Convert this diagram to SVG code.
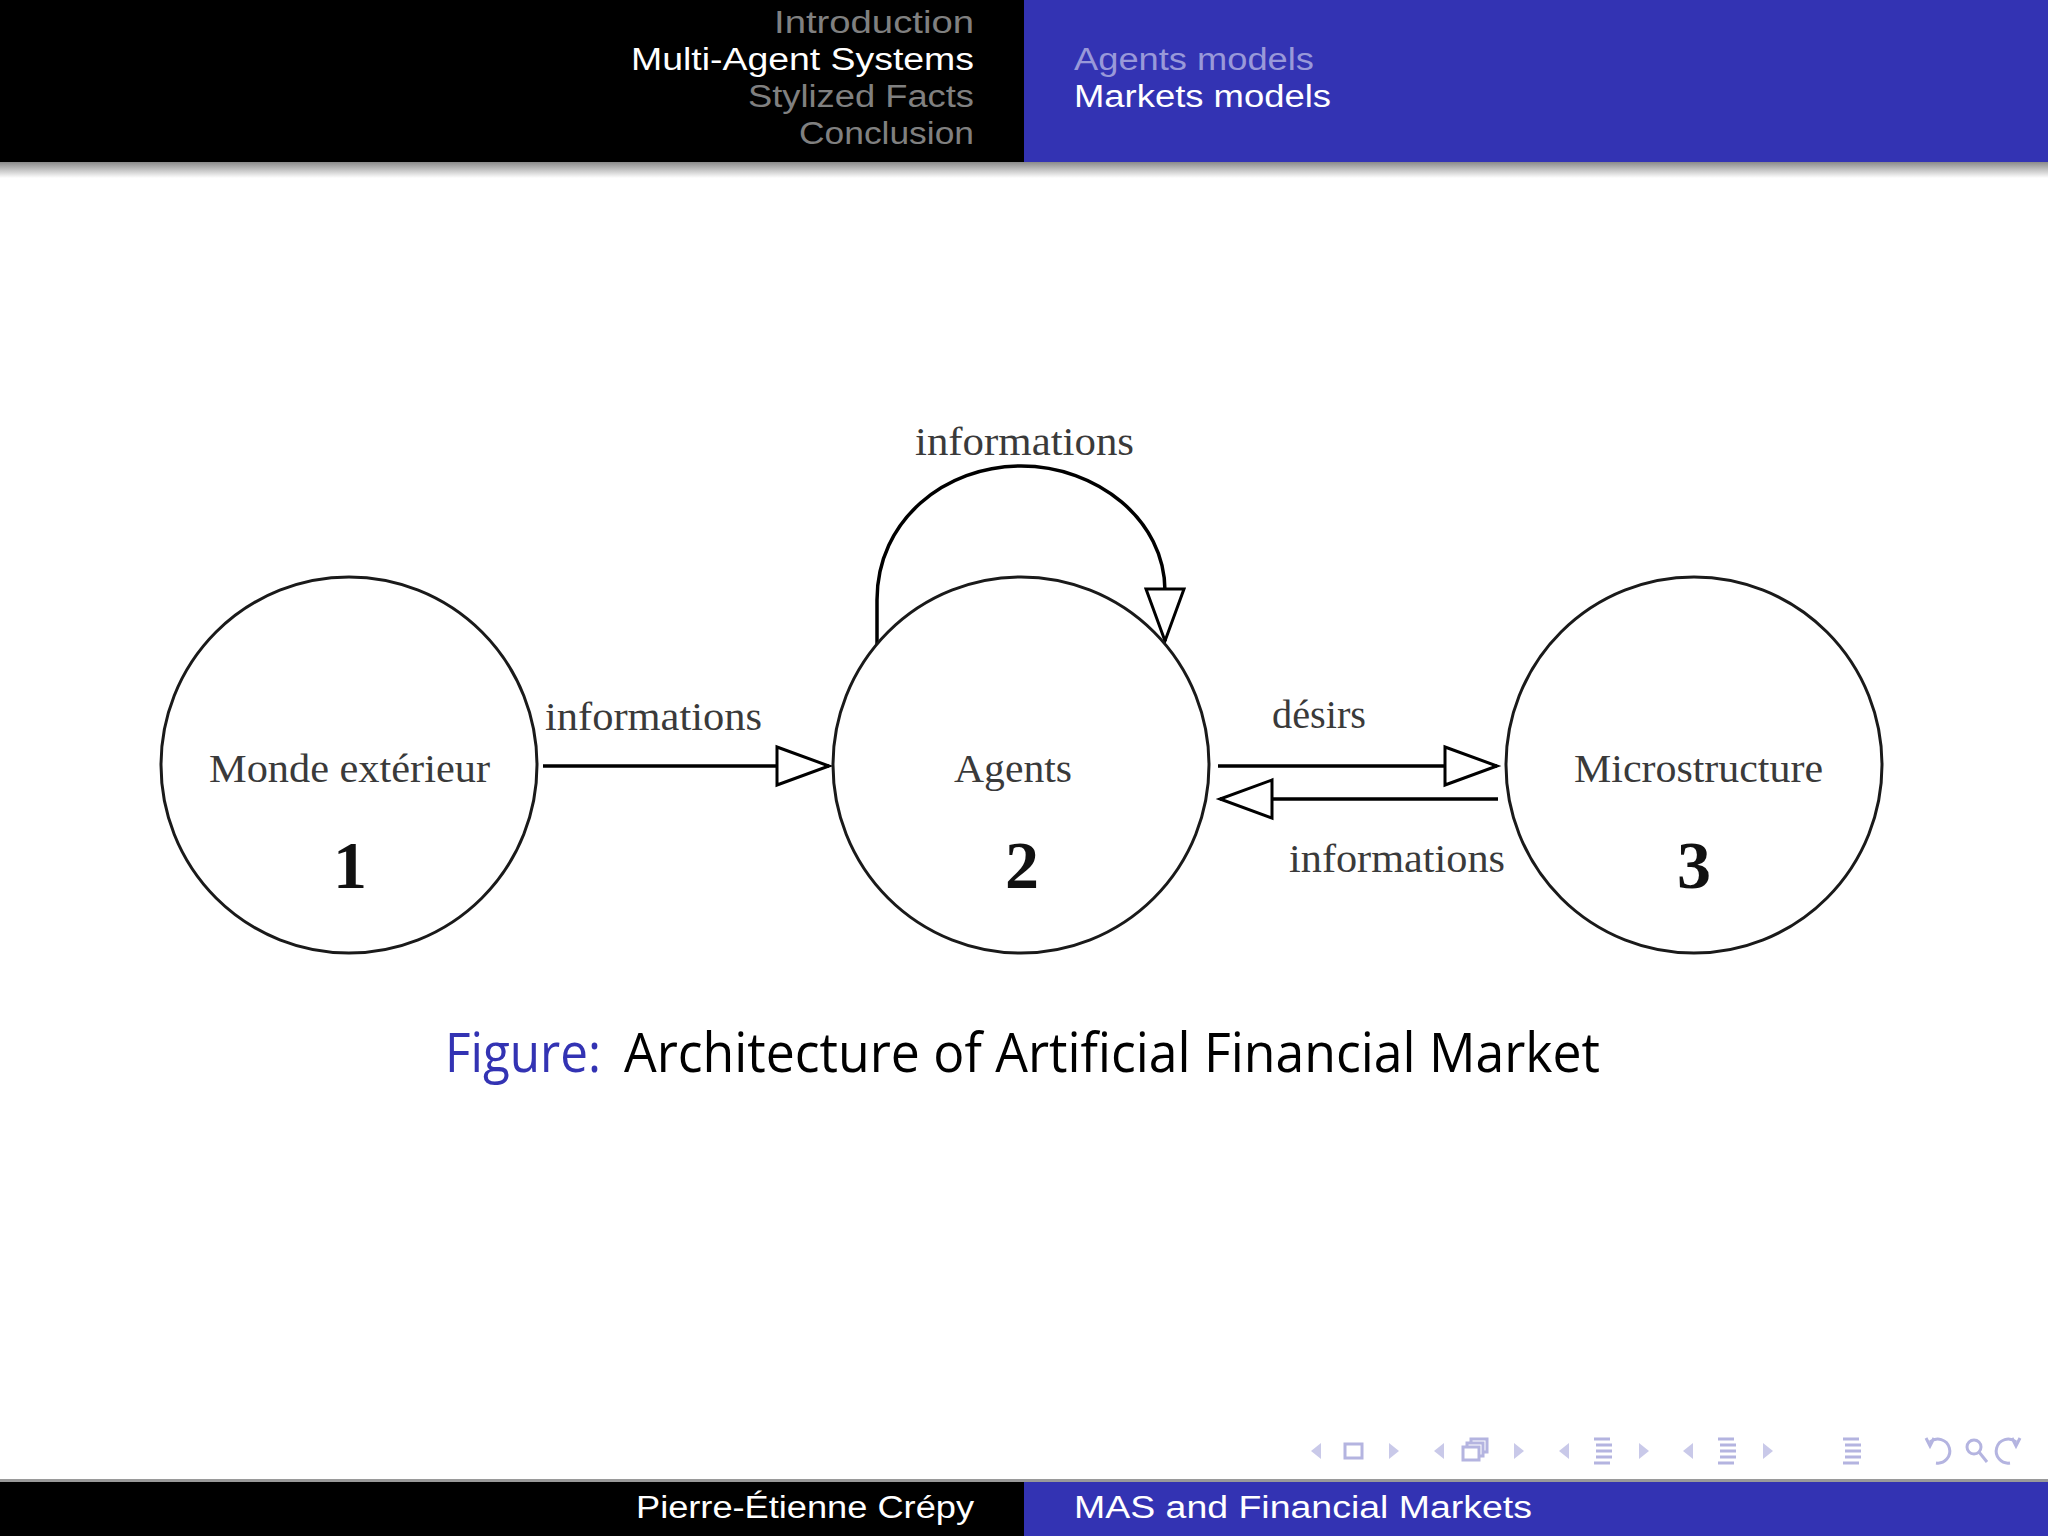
<svg xmlns="http://www.w3.org/2000/svg" width="2048" height="1536" viewBox="0 0 2048 1536">
<defs>
<linearGradient id="shadowTop" x1="0" y1="0" x2="0" y2="1">
<stop offset="0" stop-color="#8a8a8a"/>
<stop offset="1" stop-color="#ffffff"/>
</linearGradient>
<marker id="ah" markerUnits="userSpaceOnUse" markerWidth="60" markerHeight="46" refX="54" refY="23" orient="auto" viewBox="0 0 60 46" overflow="visible">
<path d="M2 4 L54 23 L2 42 Z" fill="#fff" stroke="#000" stroke-width="3" stroke-linejoin="miter"/>
</marker>
</defs>
<style>
.hd{font-family:"Liberation Sans","DejaVu Sans",sans-serif;font-size:31px}
.lab{font-family:"Liberation Serif","Times New Roman",serif;font-size:40px;fill:#3a3a3a}
.num{font-family:"Liberation Serif","Times New Roman",serif;font-size:68px;font-weight:bold;fill:#111;text-anchor:middle}
.node{fill:#fff;stroke:#1a1a1a;stroke-width:3}
.edge{fill:none;stroke:#000;stroke-width:3.5;marker-end:url(#ah)}
.nav{fill:#c9c9e9}
.navs{fill:none;stroke:#b4b4e0;stroke-width:3}
</style>
<rect width="2048" height="1536" fill="#fff"/>
<!-- header -->
<g id="header">
<rect x="0" y="0" width="1024" height="162" fill="#000"/>
<rect x="1024" y="0" width="1024" height="162" fill="#3333b3"/>
<rect x="0" y="162" width="2048" height="16" fill="url(#shadowTop)"/>
<text class="hd" x="974" y="33" text-anchor="end" fill="#808080" textLength="200" lengthAdjust="spacingAndGlyphs">Introduction</text>
<text class="hd" x="974" y="70" text-anchor="end" fill="#ffffff" textLength="343" lengthAdjust="spacingAndGlyphs">Multi-Agent Systems</text>
<text class="hd" x="974" y="107" text-anchor="end" fill="#808080" textLength="226" lengthAdjust="spacingAndGlyphs">Stylized Facts</text>
<text class="hd" x="974" y="144" text-anchor="end" fill="#808080" textLength="175" lengthAdjust="spacingAndGlyphs">Conclusion</text>
<text class="hd" x="1074" y="70" fill="#9999d9" textLength="240" lengthAdjust="spacingAndGlyphs">Agents models</text>
<text class="hd" x="1074" y="107" fill="#ffffff" textLength="257" lengthAdjust="spacingAndGlyphs">Markets models</text>
</g>
<!-- connectors -->
<g id="connectors">
<path class="edge" d="M543 766 H829"/>
<path class="edge" d="M1218 766 H1497"/>
<path class="edge" d="M1498 799 H1220"/>
<path class="edge" d="M877 645 V600 C877 520 945 466 1021 466 C1097 466 1165 520 1165 591 V641"/>
<text class="lab" x="545" y="730" textLength="217" lengthAdjust="spacingAndGlyphs">informations</text>
<text class="lab" x="915" y="455" textLength="219" lengthAdjust="spacingAndGlyphs">informations</text>
<text class="lab" x="1272" y="728" textLength="94" lengthAdjust="spacingAndGlyphs">désirs</text>
<text class="lab" x="1289" y="872" textLength="216" lengthAdjust="spacingAndGlyphs">informations</text>
</g>
<!-- nodes -->
<g id="node1">
<circle class="node" cx="349" cy="765" r="188"/>
<text class="lab" x="209" y="782" textLength="281" lengthAdjust="spacingAndGlyphs">Monde extérieur</text>
<text class="num" x="350" y="888">1</text>
</g>
<g id="node2">
<circle class="node" cx="1021" cy="765" r="188"/>
<text class="lab" x="954" y="782" textLength="118" lengthAdjust="spacingAndGlyphs">Agents</text>
<text class="num" x="1022" y="888">2</text>
</g>
<g id="node3">
<circle class="node" cx="1694" cy="765" r="188"/>
<text class="lab" x="1574" y="782" textLength="249" lengthAdjust="spacingAndGlyphs">Microstructure</text>
<text class="num" x="1694" y="888">3</text>
</g>
<!-- caption -->
<g id="caption" font-family="'Open Sans','DejaVu Sans',sans-serif" font-size="54">
<text x="445" y="1072" fill="#3333b3" textLength="156" lengthAdjust="spacingAndGlyphs">Figure:</text>
<text x="624" y="1072" fill="#000" textLength="976" lengthAdjust="spacingAndGlyphs">Architecture of Artificial Financial Market</text>
</g>
<!-- navigation symbols -->
<g id="navigation">
<path class="nav" d="M1321 1443 L1311 1451 L1321 1459 Z"/>
<rect class="navs" x="1345" y="1444" width="17" height="14"/>
<path class="nav" d="M1389 1443 L1399 1451 L1389 1459 Z"/>
<path class="nav" d="M1444 1443 L1434 1451 L1444 1459 Z"/>
<rect class="navs" x="1463" y="1447" width="16" height="13"/>
<path class="navs" d="M1467 1447 V1443 H1483 V1456 H1479 M1471 1443 V1439 H1487 V1452 H1483"/>
<path class="nav" d="M1514 1443 L1524 1451 L1514 1459 Z"/>
<path class="nav" d="M1569 1443 L1559 1451 L1569 1459 Z"/>
<path class="navs" d="M1594 1439 H1610 M1596 1445 H1612 M1596 1451 H1612 M1596 1457 H1612 M1594 1463 H1610"/>
<path class="nav" d="M1639 1443 L1649 1451 L1639 1459 Z"/>
<path class="nav" d="M1693 1443 L1683 1451 L1693 1459 Z"/>
<path class="navs" d="M1718 1439 H1734 M1720 1445 H1736 M1720 1451 H1736 M1720 1457 H1736 M1718 1463 H1734"/>
<path class="nav" d="M1763 1443 L1773 1451 L1763 1459 Z"/>
<path class="navs" d="M1843 1439 H1859 M1845 1445 H1861 M1845 1451 H1861 M1845 1457 H1861 M1843 1463 H1859"/>
<path class="navs" d="M1936 1463 A12 12 0 1 0 1930 1442 M1926 1438 L1930 1446 L1934 1438"/>
<circle class="navs" cx="1974" cy="1447" r="7"/>
<path class="navs" d="M1979 1452 L1987 1462"/>
<path class="navs" d="M2010 1463 A12 12 0 1 1 2016 1442 M2012 1438 L2016 1446 L2020 1438"/>
</g>
<!-- footer -->
<g id="footer">
<rect x="0" y="1479" width="2048" height="3" fill="#9a9a9a"/>
<rect x="0" y="1482" width="1024" height="54" fill="#000"/>
<rect x="1024" y="1482" width="1024" height="54" fill="#3333b3"/>
<text class="hd" x="974" y="1518" text-anchor="end" fill="#ffffff" textLength="338" lengthAdjust="spacingAndGlyphs">Pierre-Étienne Crépy</text>
<text class="hd" x="1074" y="1518" fill="#ffffff" textLength="458" lengthAdjust="spacingAndGlyphs">MAS and Financial Markets</text>
</g>
</svg>
